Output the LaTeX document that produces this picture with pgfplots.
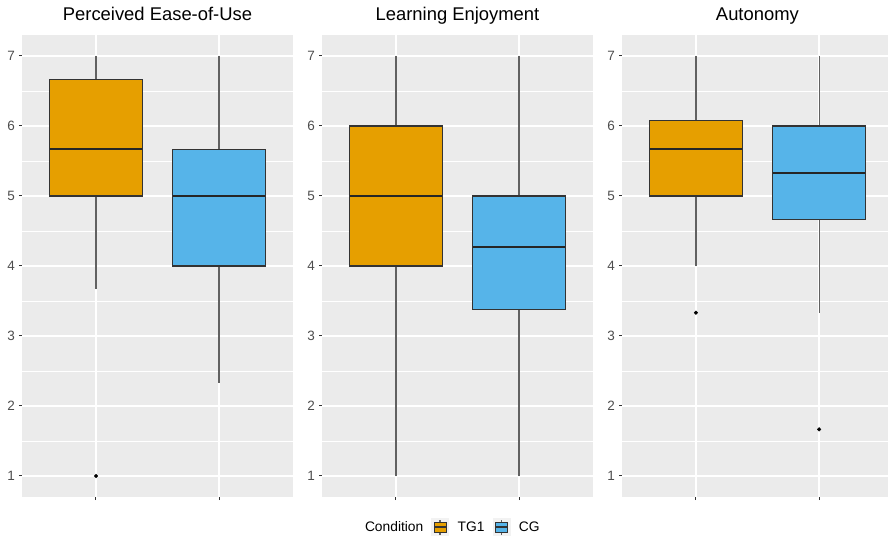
\documentclass[border=0pt]{standalone}
\usepackage{pgfplots}
\pgfplotsset{compat=1.18}
\usepgfplotslibrary{statistics}
\usepackage{fontspec}
\setmainfont{Liberation Sans}
\definecolor{tgone}{HTML}{E69F00}
\definecolor{cgc}{HTML}{56B4E9}
\definecolor{panelbg}{HTML}{EBEBEB}
\definecolor{gtwenty}{HTML}{333333}
\definecolor{gthirty}{HTML}{4D4D4D}
\definecolor{keybg}{HTML}{F2F2F2}
\pgfplotsset{
  facet/.style={
    scale only axis, width=271bp, height=462bp,
    xmin=0.4, xmax=2.6, ymin=0.7, ymax=7.3,
    axis background/.style={fill=panelbg},
    axis line style={draw=none},
    xtick={1,2}, xticklabels={},
    ytick={1,2,3,4,5,6,7},
    minor ytick={1.5,2.5,3.5,4.5,5.5,6.5},
    xmajorgrids, ymajorgrids, yminorgrids,
    major grid style={white, line width=1.6bp},
    minor grid style={white, line width=0.8bp},
    tick align=outside, xtick pos=left, ytick pos=left,
    major tick length=3bp, minor tick length=0pt,
    tick style={gtwenty, line width=1bp},
    /pgf/number format/assume math mode=true,
    yticklabel style={font=\fontsize{13.5bp}{15bp}\selectfont, text=gthirty, inner sep=0pt, xshift=-4bp},
    title style={font=\fontsize{18.4bp}{22bp}\selectfont, at={(0.5,1)}, anchor=base, yshift=9bp},
  },
  bx/.style={forget plot, boxplot/draw direction=y, boxplot/box extend=0.75, boxplot/whisker extend=0,
    draw=gtwenty, line width=1.1bp, mark=*, mark size=1.9bp,
    mark options={draw=black, fill=black, line width=0.3bp},
    boxplot/every whisker/.style={line width=1.25bp, draw=black!62},
    boxplot/every median/.style={line width=2.2bp, draw=black!85}},
  tg/.style={bx, boxplot/every box/.style={fill=tgone}},
  cg/.style={bx, boxplot/every box/.style={fill=cgc}},
}
\begin{document}
\begin{tikzpicture}
\path[use as bounding box] (0,0) rectangle (888bp,536bp);
% Panel 1
\begin{axis}[facet, at={(22bp,39bp)}, anchor=south west, title={Perceived Ease-of-Use}]
\addplot[tg, boxplot prepared={lower whisker=3.667, lower quartile=5, median=5.667, upper quartile=6.667, upper whisker=7, draw position=1}]
  table[row sep=\\, y index=0] {1\\};
\addplot[cg, boxplot prepared={lower whisker=2.333, lower quartile=4, median=5, upper quartile=5.667, upper whisker=7, draw position=2}]
  coordinates {};
\end{axis}
% Panel 2
\begin{axis}[facet, at={(322bp,39bp)}, anchor=south west, title={Learning Enjoyment},
  legend style={at={(0.468,-0.065)}, anchor=center, draw=none, fill=none,
    legend columns=3, font=\fontsize{13.8bp}{16bp}\selectfont,
    /tikz/every even column/.append style={column sep=6bp},
    /tikz/every odd column/.append style={column sep=7bp}}]
\addlegendimage{empty legend}\addlegendentry{Condition\hspace{-6bp}}
\addlegendimage{legend image code/.code={
  \fill[keybg] (0bp,-8.5bp) rectangle (17bp,8.5bp);
  \draw[black!62, line width=1.2bp] (8.5bp,-7.5bp) -- (8.5bp,7.5bp);
  \filldraw[fill=tgone, draw=gtwenty, line width=1bp] (2.5bp,-5bp) rectangle (14.5bp,5bp);
  \draw[gtwenty, line width=1.8bp] (2.5bp,0bp) -- (14.5bp,0bp);}}
\addlegendentry{TG1}
\addlegendimage{legend image code/.code={
  \fill[keybg] (0bp,-8.5bp) rectangle (17bp,8.5bp);
  \draw[black!62, line width=1.2bp] (8.5bp,-7.5bp) -- (8.5bp,7.5bp);
  \filldraw[fill=cgc, draw=gtwenty, line width=1bp] (2.5bp,-5bp) rectangle (14.5bp,5bp);
  \draw[gtwenty, line width=1.8bp] (2.5bp,0bp) -- (14.5bp,0bp);}}
\addlegendentry{CG}
\addplot[tg, boxplot prepared={lower whisker=1, lower quartile=4, median=5, upper quartile=6, upper whisker=7, draw position=1}]
  coordinates {};
\addplot[cg, boxplot prepared={lower whisker=1, lower quartile=3.375, median=4.27, upper quartile=5, upper whisker=7, draw position=2}]
  coordinates {};
\end{axis}
% Panel 3
\begin{axis}[facet, at={(622bp,39bp)}, anchor=south west, width=266bp, xmax=2.559, title={Autonomy},
  title style={at={(0.509,1)}}]
\addplot[tg, boxplot prepared={lower whisker=4, lower quartile=5, median=5.667, upper quartile=6.083, upper whisker=7, draw position=1}]
  table[row sep=\\, y index=0] {3.333\\};
\addplot[cg, boxplot prepared={lower whisker=3.333, lower quartile=4.667, median=5.333, upper quartile=6, upper whisker=7, draw position=2}]
  table[row sep=\\, y index=0] {1.667\\};
\end{axis}
\end{tikzpicture}
\end{document}
